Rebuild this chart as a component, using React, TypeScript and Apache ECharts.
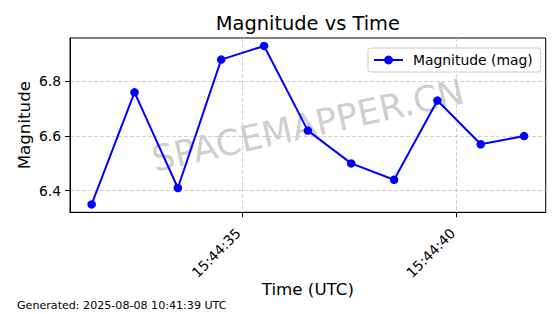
import React, { useEffect, useRef } from "react";
import * as echarts from "echarts";

// Data (times in UTC, seconds with fraction)
const TIMES = [
  "15:44:31.50",
  "15:44:32.50",
  "15:44:33.51",
  "15:44:34.52",
  "15:44:35.52",
  "15:44:36.54",
  "15:44:37.55",
  "15:44:38.55",
  "15:44:39.56",
  "15:44:40.57",
  "15:44:41.58",
];
const MAGNITUDES = [6.35, 6.76, 6.41, 6.88, 6.93, 6.62, 6.5, 6.44, 6.73, 6.57, 6.6];
const X_TICKS = ["15:44:35", "15:44:40"];
const Y_TICKS = [6.4, 6.6, 6.8];

const TITLE = "Magnitude vs Time";
const X_NAME = "Time (UTC)";
const Y_NAME = "Magnitude";
const SERIES_NAME = "Magnitude (mag)";
const WATERMARK = "SPACEMAPPER.CN";
const FOOTER = "Generated: 2025-08-08 10:41:39 UTC";

const toSec = (t: string) => {
  const [h, m, s] = t.split(":");
  return Number(h) * 3600 + Number(m) * 60 + Number(s);
};
const fmt = (v: number) => {
  const s = Math.round(v);
  const h = Math.floor(s / 3600);
  const m = Math.floor((s % 3600) / 60);
  const ss = s % 60;
  const p = (n: number) => String(n).padStart(2, "0");
  return `${p(h)}:${p(m)}:${p(ss)}`;
};

const FONT = "DejaVu Sans";

export default function App() {
  const ref = useRef<HTMLDivElement>(null);
  useEffect(() => {
    if (!ref.current) return;
    const chart = echarts.init(ref.current, undefined, { renderer: "svg" });
    const xs = TIMES.map(toSec);
    const xMin0 = Math.min(...xs), xMax0 = Math.max(...xs);
    const yMin0 = Math.min(...MAGNITUDES), yMax0 = Math.max(...MAGNITUDES);
    const xm = (xMax0 - xMin0) * 0.05;
    const ym = (yMax0 - yMin0) * 0.05;
    const gridL = 70, gridT = 38, gridR = 14.3, gridB = 101.7;
    const cx = gridL + (560 - gridL - gridR) / 2;
    const cy = gridT + (314 - gridT - gridB) / 2;
    const gridLine = { show: true, lineStyle: { color: "#c8c8c8", width: 0.8, type: [4, 2] as any } };
    chart.setOption({
      animation: false,
      backgroundColor: "#ffffff",
      textStyle: { fontFamily: FONT },
      grid: {
        left: gridL, top: gridT, right: gridR, bottom: gridB,
        show: true, borderColor: "#000", borderWidth: 1, backgroundColor: "transparent",
      },
      legend: {
        show: true,
        left: 368, top: 48,
        padding: [5, 8, 5, 5],
        itemWidth: 29, itemHeight: 11,
        backgroundColor: "rgba(255,255,255,0.8)",
        borderColor: "#cccccc", borderWidth: 1, borderRadius: 3,
        textStyle: { fontFamily: FONT, fontSize: 13.9, color: "#000", padding: [0, 0, 0, 5] },
        data: [SERIES_NAME],
      },
      graphic: [
        {
          type: "text", x: cx, y: 23, z: 10,
          style: { text: TITLE, fontFamily: FONT, fontSize: 19.4, fill: "#000", textAlign: "center", textVerticalAlign: "middle" },
        },
        {
          type: "text", x: cx, y: cy, rotation: (12.5 * Math.PI) / 180, z: -1,
          style: { text: WATERMARK, fontFamily: FONT, fontSize: 35.5, fill: "rgba(128,128,128,0.4)", textAlign: "center", textVerticalAlign: "middle" },
        },
        {
          type: "text", x: 17, y: 305, z: 10,
          style: { text: FOOTER, fontFamily: FONT, fontSize: 11.1, fill: "#000", textAlign: "left", textVerticalAlign: "middle" },
        },
      ],
      xAxis: {
        type: "value",
        min: xMin0 - xm,
        max: xMax0 + xm,
        name: X_NAME,
        nameLocation: "middle",
        nameGap: 68.5,
        nameMoveOverlap: false,
        nameTextStyle: { fontFamily: FONT, fontSize: 16.7, color: "#000" },
        axisLine: { show: true, onZero: false, lineStyle: { color: "#000", width: 1 } },
        axisTick: { show: true, length: 5, lineStyle: { color: "#000", width: 1 }, customValues: X_TICKS.map(toSec) },
        axisLabel: {
          show: true, rotate: 45, margin: 15, fontFamily: FONT, fontSize: 13.9, color: "#000",
          padding: [0, 5, 8, 0],
          customValues: X_TICKS.map(toSec),
          formatter: (v: number) => fmt(v),
        },
        splitLine: gridLine,
      },
      yAxis: {
        type: "value",
        min: yMin0 - ym,
        max: yMax0 + ym,
        name: Y_NAME,
        nameLocation: "middle",
        nameGap: 38,
        nameMoveOverlap: false,
        nameTextStyle: { fontFamily: FONT, fontSize: 16.7, color: "#000" },
        axisLine: { show: true, lineStyle: { color: "#000", width: 1 } },
        axisTick: { show: true, length: 5, lineStyle: { color: "#000", width: 1 }, customValues: Y_TICKS },
        axisLabel: {
          show: true, margin: 9, fontFamily: FONT, fontSize: 13.9, color: "#000",
          customValues: Y_TICKS,
          formatter: (v: number) => v.toFixed(1),
        },
        splitLine: gridLine,
      },
      series: [
        {
          type: "line",
          name: SERIES_NAME,
          data: xs.map((x, i) => [x, MAGNITUDES[i]]),
          symbol: "circle",
          symbolSize: 8.5,
          lineStyle: { color: "#0000ff", width: 2 },
          itemStyle: { color: "#0000ff" },
          z: 5,
        },
      ],
    });
    return () => chart.dispose();
  }, []);
  return <div ref={ref} style={{ width: 560, height: 314, position: "absolute", left: 0, top: 0 }} />;
}
